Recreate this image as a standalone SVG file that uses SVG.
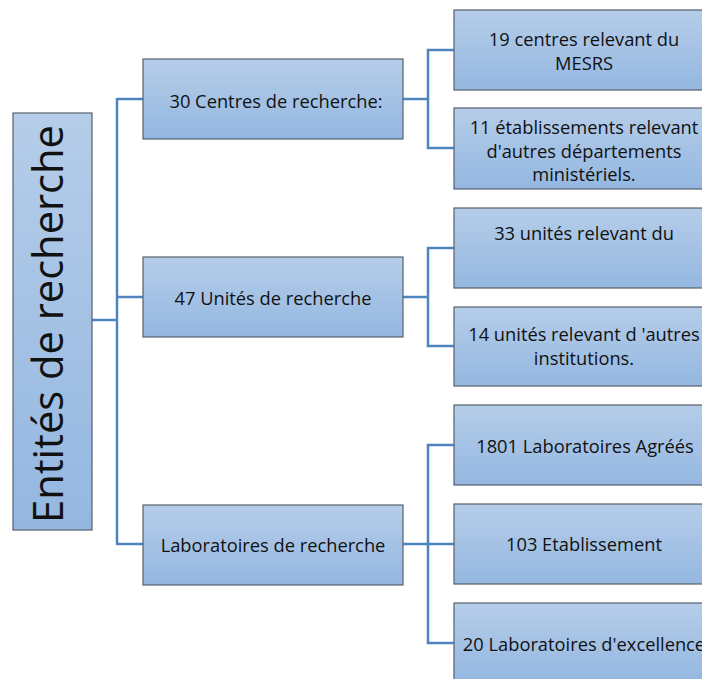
<svg xmlns="http://www.w3.org/2000/svg" width="702" height="679" viewBox="0 0 702 679">
  <defs>
    <linearGradient id="boxFill" x1="0" y1="0" x2="0" y2="1">
      <stop offset="0" stop-color="#b5cde9"/>
      <stop offset="1" stop-color="#94b7e1"/>
    </linearGradient>
  </defs>
  <style>
    .box { fill: url(#boxFill); stroke: #56606c; stroke-width: 1.2; }
    .lbl { font-family: "Open Sans", "Liberation Sans", sans-serif; font-size: 18.3px; fill: #111; text-anchor: middle; dominant-baseline: central; }
    .root { font-family: "Open Sans", "Liberation Sans", sans-serif; font-size: 42px; fill: #111; text-anchor: middle; }
    .conn { fill: none; stroke: #4f85bf; stroke-width: 2.5; }
  </style>

  <!-- connectors -->
  <g id="connectors">
    <path class="conn" d="M92,320 H117 M117,98 V545 M117,99 H143 M117,297 H143 M117,544 H143"/>
    <path class="conn" d="M403,99 H428 M454,50 H428 V148 H454"/>
    <path class="conn" d="M403,297 H428 M454,248 H428 V346 H454"/>
    <path class="conn" d="M403,544 H454 M454,445 H428 V643 H454"/>
  </g>

  <!-- root -->
  <g id="root">
    <rect class="box" x="13" y="113" width="79" height="417"/>
    <text class="root" transform="translate(63,324) rotate(-90)" textLength="398" lengthAdjust="spacingAndGlyphs">Entités de recherche</text>
  </g>

  <!-- second level -->
  <g id="centres">
    <rect class="box" x="143" y="59" width="260" height="80"/>
    <text class="lbl" x="276" y="100">30 Centres de recherche:</text>
  </g>
  <g id="unites">
    <rect class="box" x="143" y="257" width="260" height="80"/>
    <text class="lbl" x="273" y="297">47 Unités de recherche</text>
  </g>
  <g id="laboratoires">
    <rect class="box" x="143" y="505" width="260" height="80"/>
    <text class="lbl" x="273" y="544">Laboratoires de recherche</text>
  </g>

  <!-- third level -->
  <g id="centres-mesrs">
    <rect class="box" x="454" y="10" width="260" height="80"/>
    <text class="lbl" x="584" y="38">19 centres relevant du</text>
    <text class="lbl" x="584" y="62">MESRS</text>
  </g>
  <g id="centres-autres">
    <rect class="box" x="454" y="108" width="260" height="81"/>
    <text class="lbl" x="584" y="126">11 établissements relevant</text>
    <text class="lbl" x="584" y="150">d'autres départements</text>
    <text class="lbl" x="584" y="173">ministériels.</text>
  </g>
  <g id="unites-du">
    <rect class="box" x="454" y="208" width="260" height="80"/>
    <text class="lbl" x="584" y="232">33 unités relevant du</text>
  </g>
  <g id="unites-autres">
    <rect class="box" x="454" y="307" width="260" height="79"/>
    <text class="lbl" x="584" y="333">14 unités relevant d 'autres</text>
    <text class="lbl" x="584" y="357">institutions.</text>
  </g>
  <g id="labos-agrees">
    <rect class="box" x="454" y="405" width="260" height="80"/>
    <text class="lbl" x="585" y="445">1801 Laboratoires Agréés</text>
  </g>
  <g id="etablissements">
    <rect class="box" x="454" y="504" width="260" height="80"/>
    <text class="lbl" x="584" y="543">103 Etablissement</text>
  </g>
  <g id="labos-excellence">
    <rect class="box" x="454" y="603" width="260" height="80"/>
    <text class="lbl" x="584" y="643">20 Laboratoires d'excellence</text>
  </g>
</svg>
